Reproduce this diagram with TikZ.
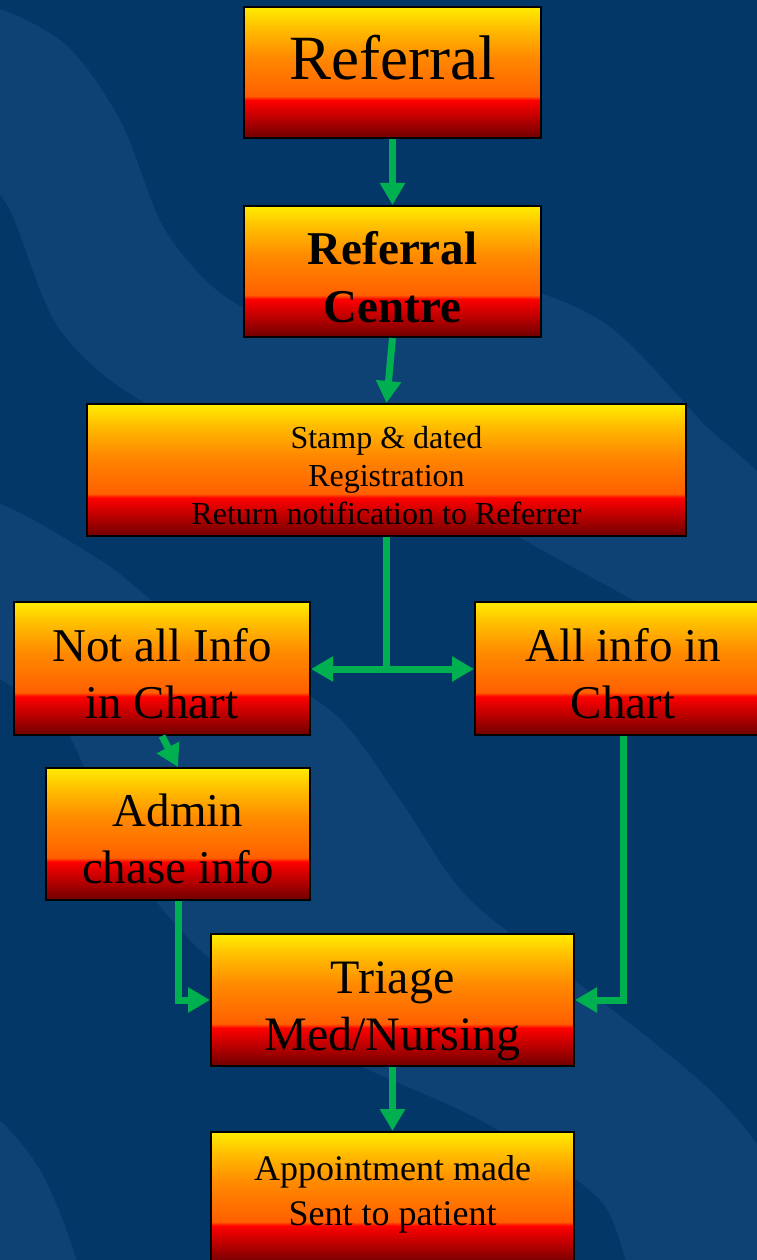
\documentclass[tikz,border=0pt]{standalone}
\usepackage{fontspec}
\setmainfont{Liberation Serif}
\usetikzlibrary{arrows.meta}

\definecolor{bgblue}{RGB}{3,55,104}
\definecolor{bgwave}{RGB}{15,66,116}
\definecolor{flowgreen}{RGB}{0,176,80}
\definecolor{boxyellow}{RGB}{255,236,0}
\definecolor{boxamber}{RGB}{255,190,0}
\definecolor{boxorange}{RGB}{255,138,0}
\definecolor{boxorred}{RGB}{255,95,0}
\definecolor{boxred}{RGB}{255,0,0}
\definecolor{boxdark}{RGB}{112,0,0}
\pgfdeclareverticalshading{boxfade}{100bp}{color(0bp)=(boxdark); color(25bp)=(boxdark);
  color(39.5bp)=(boxred); color(41bp)=(boxorred); color(56bp)=(boxorange);
  color(67bp)=(boxamber); color(75bp)=(boxyellow); color(100bp)=(boxyellow)}
\newcommand{\pad}[1]{\rule{0pt}{#1}}

\begin{document}
\begin{tikzpicture}[x=1pt,y=-1pt,
  box/.style={draw=black, line width=2pt, shading=boxfade, rectangle, inner sep=0pt,
    align=center, text=black, text depth=0pt, minimum height=132pt},
  bigtext/.style={font=\fontsize{47}{57}\selectfont},
  flow/.style={draw=flowgreen, line width=7pt, -{Triangle[width=24pt,length=22pt]}}]
\useasboundingbox (0,0) rectangle (757,1260);
\fill[bgblue] (0,0) rectangle (757,1260);
\fill[bgwave] plot[smooth cycle] coordinates {(-30,10) (60,40) (120,120) (165,230) (230,300)
  (330,335) (470,280) (600,320) (700,420) (790,520) (790,720) (700,640) (560,560)
  (420,485) (300,445) (150,405) (60,330) (10,210) (-30,150)};
\fill[bgwave] plot[smooth cycle] coordinates {(-30,500) (100,560) (200,640) (330,710)
  (400,800) (470,900) (600,1000) (720,1100) (790,1200) (790,1300) (650,1300) (600,1200)
  (480,1120) (330,1050) (200,950) (120,850) (60,720) (-30,650)};
\fill[bgwave] plot[smooth cycle] coordinates {(-30,1110) (40,1170) (80,1300) (-30,1300)};
\fill[bgwave] plot[smooth cycle] coordinates {(690,620) (757,690) (800,760) (800,590)};

\node[box, minimum width=297pt, minimum height=131pt, text depth=30pt,
  font=\fontsize{63}{70}\selectfont] (ref) at (392.5,72.5) {Referral};
\node[box, minimum width=297pt, minimum height=131pt,
  font=\fontsize{47}{58}\selectfont\bfseries] (refc) at (392.5,271.5) {\pad{43pt}Referral\\Centre};
\node[box, minimum width=599pt, font=\fontsize{32}{38}\selectfont] (stamp) at (386.5,470)
  {\pad{33pt}Stamp \& dated\\Registration\\Return notification to Referrer};
\node[box, bigtext, minimum width=296pt, minimum height=133pt] (notall) at (162,668.5)
  {\pad{42pt}Not all Info\\in Chart};
\node[box, bigtext, minimum width=296pt, minimum height=133pt] (allinfo) at (623,668.5)
  {\pad{42pt}All info in\\Chart};
\node[box, bigtext, minimum width=264pt] (admin) at (178,834) {\pad{42pt}Admin\\chase info};
\node[box, minimum width=363pt, font=\fontsize{48}{57}\selectfont] (triage) at (392.5,1000)
  {\pad{44pt}Triage\\Med/Nursing};
\node[box, minimum width=363pt, text depth=15pt, font=\fontsize{36}{45}\selectfont] (appt)
  at (392.5,1198) {Appointment made\\Sent to patient};

\coordinate (split) at (386.5,669);
\draw[flow] (ref) -- (refc);
\draw[flow] (refc.south) -- (stamp.north);
\draw[draw=flowgreen, line width=7pt] (stamp.south) -- (split);
\draw[flow] (split) -- (split -| notall.east);
\draw[flow] (split) -- (split -| allinfo.west);
\draw[flow] (notall.south) -- (admin.north);
\draw[flow] (admin.south) |- (triage.west);
\draw[flow] (allinfo.south) |- (triage.east);
\draw[flow] (triage) -- (appt);
\end{tikzpicture}
\end{document}
